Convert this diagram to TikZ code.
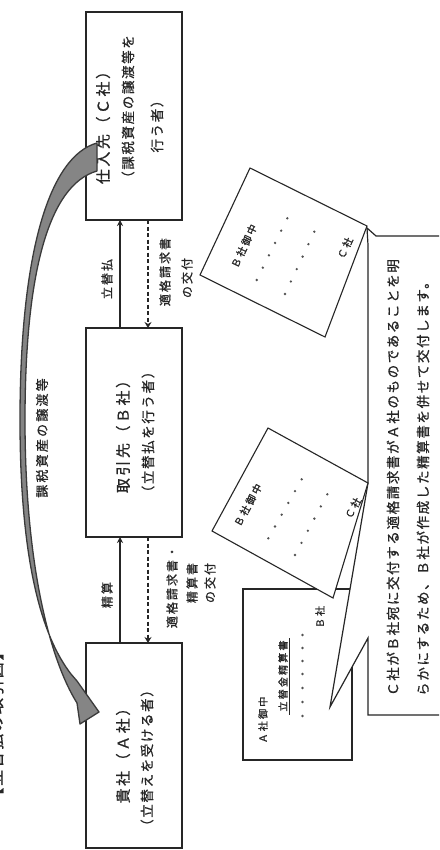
\documentclass[tikz,border=0pt]{standalone}
\usepackage{fontspec}
\newfontfamily\jpA[LetterSpace=12,FakeBold=0.8]{Noto Sans CJK JP}
\newfontfamily\jpB[LetterSpace=17,FakeBold=0.8]{Noto Sans CJK JP}
\newfontfamily\jpC[LetterSpace=22,FakeBold=1.2]{Noto Sans CJK JP}
\usetikzlibrary{arrows.meta,calc}
\definecolor{arrfill}{HTML}{858585}
\definecolor{arredge}{HTML}{3A3A3A}
\definecolor{inkc}{HTML}{262626}
\begin{document}
\begin{tikzpicture}[x=1pt,y=-1pt,
  box/.style={draw=inkc, line width=1.6pt, minimum width=96pt, inner sep=0pt, outer sep=0pt},
  namet/.style={rotate=90, inner sep=0pt, text=inkc, font=\jpB\fontsize{15}{15}\selectfont},
  rolet/.style={rotate=90, inner sep=0pt, text=inkc, font=\jpA\fontsize{13.5}{13.5}\selectfont},
  lbl/.style={rotate=90, inner sep=0pt, text=inkc, font=\jpB\fontsize{12}{12}\selectfont},
  doctxt/.style={inner sep=0pt, text=inkc, font=\jpC\fontsize{10}{10}\selectfont},
  note/.style={rotate=90, anchor=west, inner sep=0pt, text=inkc, font=\jpA\fontsize{13.5}{13.5}\selectfont},
  conn/.style={line width=1.4pt, draw=inkc, -{Stealth[length=6pt,width=6pt]}},
  dconn/.style={line width=2.4pt, draw=inkc, dash pattern=on 4pt off 2.5pt, -{Stealth[length=6pt,width=7pt]}},
  docbox/.style={draw=inkc, line width=1.1pt, fill=white, line join=miter},
  dot/.style={fill=inkc!80},
]
\useasboundingbox (0,0) rectangle (439,850);
\clip (0,0) rectangle (439,850);
\fill[white] (0,0) rectangle (439,850);

% title (cut off at the left edge)
\node[rotate=90, inner sep=0pt, text=inkc, font=\jpA\fontsize{16}{16}\selectfont] (title) at (-4,724) {【立替払の取引図】};

% main boxes
\node[box, minimum height=208pt] (C) at (134,116) {};
\node[box, minimum height=209pt] (B) at (134,432.5) {};
\node[box, minimum height=205pt] (A) at (134,745.5) {};

\node[namet] (Ct1) at (103,124) {仕入先（Ｃ社）};
\node[rolet] (Ct2) at (128,110) {（課税資産の譲渡等を};
\node[rolet] (Ct3) at (157,123) {行う者）};

\node[namet] (Bt1) at (123,433) {取引先（Ｂ社）};
\node[rolet] (Bt2) at (148,432) {（立替払を行う者）};

\node[namet] (At1) at (123,752) {貴社（Ａ社）};
\node[rolet] (At2) at (147,758) {（立替えを受ける者）};

% connectors
\draw[conn]  ([xshift=-14pt]B.north) -- ([xshift=-14pt]C.south);
\draw[dconn] ([xshift=14pt]C.south) -- ([xshift=14pt]B.north);
\draw[conn]  ([xshift=-14pt]A.north) -- ([xshift=-14pt]B.south);
\draw[dconn] ([xshift=14pt]B.south) -- ([xshift=14pt]A.north);

\node[lbl] (l1) at (107,279) {立替払};
\node[lbl] (l2a) at (165,272) {適格請求書};
\node[lbl] (l2b) at (187,278) {の交付};
\node[lbl] (l3) at (107,595) {精算};
\node[lbl] (l4a) at (172,587) {適格請求書・};
\node[lbl] (l4b) at (192,583) {精算書};
\node[lbl] (l4c) at (210,583) {の交付};
\node[lbl, font=\jpB\fontsize{13}{13}\selectfont] (l5) at (42,438) {課税資産の譲渡等};

% curved transfer arrow C -> A
\filldraw[fill=arrfill, draw=arredge, line width=1.3pt, line join=round]
  (97,143) .. controls (50,156) and (20,250) .. (20,420)
  .. controls (20,565) and (43,638) .. (71,674) -- (77,681) -- (99,712) -- (80,724) -- (77,703)
  .. controls (50,660) and (25,565) .. (25,420)
  .. controls (25,275) and (48,185) .. (97,171) -- cycle;

% document 1 (A社御中 立替金精算書)
\draw[docbox] (243,589) rectangle (352,760);
\node[doctxt, rotate=90] (d1a) at (263,720) {Ａ社御中};
\node[doctxt, rotate=90] (d1b) at (283,676) {立替金精算書};
\draw[inkc, line width=0.9pt] (289,638) -- (289,715);
\foreach \yy in {635,648,661,674,688,702,716} \fill[dot] (302.5,\yy) circle (1.3pt);
\node[doctxt, rotate=90] (d1c) at (320,617) {Ｂ社};

% callout with explanation
\draw[docbox, line width=1.2pt] (368,245) -- (367,228) -- (376,236) -- (445,236) -- (445,715)
  -- (368,715) -- (368,638) -- (330,707) -- (368,483) -- cycle;
\node[note] (n1) at (393,696) {Ｃ社がＢ社宛に交付する適格請求書がＡ社のものであることを明};
\node[note] (n2) at (423,696) {らかにするため、Ｂ社が作成した精算書を併せて交付します。};

% document 2
\draw[docbox] (268,428) -- (368,483) -- (333,598) -- (212,531) -- cycle;
\node[doctxt, rotate=61.5] (d2a) at (248,505) {Ｂ社御中};
\node[doctxt, rotate=61.5] (d2b) at (353,508) {Ｃ社};
\foreach \i in {0,...,5} {
  \fill[dot] ($(268.3,538.3)!\i/5!(301.7,479.3)$) circle (1.3pt);
  \fill[dot] ($(295,555)!\i/5!(327.3,494.3)$) circle (1.3pt);
}

% document 3
\draw[docbox] (250,168) -- (367,226) -- (325,337) -- (200,275) -- cycle;
\node[doctxt, rotate=65] (d3a) at (244,246) {Ｂ社御中};
\node[doctxt, rotate=65] (d3b) at (345,248) {Ｃ社};
\foreach \i in {0,...,5} {
  \fill[dot] ($(256.7,280)!\i/5!(287.3,218.3)$) circle (1.3pt);
  \fill[dot] ($(285,294)!\i/5!(314.3,231.7)$) circle (1.3pt);
}
\end{tikzpicture}
\end{document}
